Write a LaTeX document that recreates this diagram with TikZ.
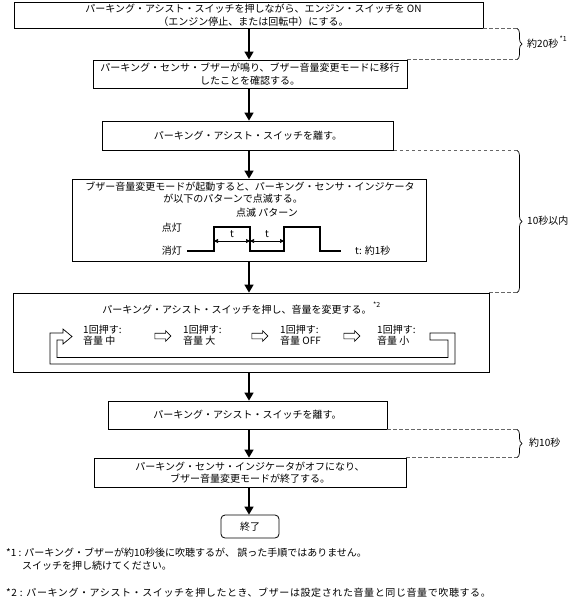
\documentclass[tikz,border=0pt]{standalone}
\usepackage{fontspec}
\setmainfont{Noto Sans CJK JP}
\usetikzlibrary{arrows.meta,decorations.pathreplacing,shapes.arrows}
\begin{document}
\begin{tikzpicture}[x=1pt,y=-1pt,
  box/.style={draw,line width=0.8pt,inner sep=0pt,font=\fontsize{10}{12.5}\selectfont,align=center},
  flow/.style={line width=1.6pt,-{Triangle[length=8pt,width=9pt]}},
  dsh/.style={draw=gray!80!black,line width=0.7pt,dash pattern=on 3.5pt off 2.5pt},
  brc/.style={draw=black,line width=0.7pt,decorate,decoration={brace,amplitude=5pt}},
  txt/.style={inner sep=0pt,font=\fontsize{10}{12.5}\selectfont},
  item/.style={inner sep=0pt,font=\fontsize{10}{11.5}\selectfont,align=left,anchor=west},
  supr/.style={inner sep=0pt,font=\fontsize{7}{8}\selectfont,anchor=west},
  wave/.style={line width=1.6pt},
  dim/.style={line width=0.6pt,{Triangle[length=4pt,width=4pt]}-{Triangle[length=4pt,width=4pt]}},
  harrow/.style={draw,single arrow,line width=0.6pt,inner sep=2.5pt,single arrow head extend=2.5pt,minimum height=16pt}
]
\useasboundingbox (0,0) rectangle (571,608);
\coordinate (ax) at (249,0);
\coordinate (bx) at (517,0);
% boxes
\node[box,minimum width=469pt,minimum height=26pt] (b1) at (248.5,15) {\hspace*{10pt}パーキング・アシスト・スイッチを押しながら、エンジン・スイッチを ON\\\hspace*{10pt}（エンジン停止、または回転中）にする。};
\node[box,minimum width=314pt,minimum height=28pt] (b2) at (250,74) {パーキング・センサ・ブザーが鳴り、ブザー音量変更モードに移行\\したことを確認する。};
\node[box,minimum width=291pt,minimum height=29pt] (b3) at (248,135.5) {パーキング・アシスト・スイッチを離す。};
\node[box,minimum width=354pt,minimum height=82pt] (b4) at (249,220) {};
\node[box,minimum width=476pt,minimum height=79pt] (b5) at (251,332.5) {};
\node[box,minimum width=279pt,minimum height=28pt] (b6) at (247.5,415) {パーキング・アシスト・スイッチを離す。};
\node[box,minimum width=312pt,minimum height=29pt] (b7) at (250,472.5) {パーキング・センサ・インジケータがオフになり、\\ブザー音量変更モードが終了する。};
\node[box,rounded corners=4pt,minimum width=58pt,minimum height=23pt] (end) at (250,526.5) {終了};
% flow arrows
\draw[flow] (b1.south -| ax) -- (b2.north -| ax);
\draw[flow] (b2.south -| ax) -- (b3.north -| ax);
\draw[flow] (b3.south -| ax) -- (b4.north -| ax);
\draw[flow] (b4.south -| ax) -- (b5.north -| ax);
\draw[flow] (b5.south -| ax) -- (b6.north -| ax);
\draw[flow] (b6.south -| ax) -- (b7.north -| ax);
\draw[flow] (b7.south -| ax) -- (end.north -| ax);
% timing braces
\coordinate (r1a) at (b1.south east -| bx);
\coordinate (r1b) at (b2.north east -| bx);
\draw[dsh] (b1.south east) -- (r1a);
\draw[dsh] (b2.north east) -- (r1b);
\draw[brc] (r1a) -- (r1b);
\node[txt,anchor=west] (t20) at (527,44) {約20秒};
\node[supr] (s1) at ([xshift=1pt,yshift=5pt]t20.east) {*1};
\coordinate (r2a) at (b3.south east -| bx);
\coordinate (r2b) at (b5.north east -| bx);
\draw[dsh] (b3.south east) -- (r2a);
\draw[dsh] (b5.north east) -- (r2b);
\draw[brc] (r2a) -- (r2b);
\node[txt,anchor=west] (t10i) at (527,221) {10秒以内};
\coordinate (r3a) at (b6.south east -| bx);
\coordinate (r3b) at (b7.north east -| bx);
\draw[dsh] (b6.south east) -- (r3a);
\draw[dsh] (b7.north east) -- (r3b);
\draw[brc] (r3a) -- (r3b);
\node[txt,anchor=west] (t10) at (529,443) {約10秒};
% blink box contents
\node[txt] (bl1) at (250,187) {ブザー音量変更モードが起動すると、パーキング・センサ・インジケータ};
\node[txt] (bl2) at (233,199) {が以下のパターンで点滅する。};
\node[txt] (bl3) at (267,213) {点滅 パターン};
\node[txt,anchor=east] (lon) at (182,228) {点灯};
\node[txt,anchor=east] (loff) at (182,251) {消灯};
\draw[wave] (187,251) -- (214,251) -- (214,227) -- (250,227) -- (250,251) -- (284,251) -- (284,227) -- (320,227) -- (320,251) -- (341,251);
\coordinate (d1) at (214,241);
\coordinate (d2) at (250,241);
\coordinate (d3) at (284,241);
\draw[dim] (d1) -- (d2);
\draw[dim] (d2) -- (d3);
\node[txt] (tt1) at (232,234) {t};
\node[txt] (tt2) at (267,234) {t};
\node[txt,anchor=west] (tnote) at (355,251) {t: 約1秒};
% volume box contents
\node[txt] (t5) at (237,310) {パーキング・アシスト・スイッチを押し、音量を変更する。};
\node[supr] (s2) at ([xshift=1pt,yshift=5pt]t5.east) {*2};
\node[item] (i1) at (83,335) {1回押す:\\音量 中};
\node[item] (i2) at (183,335) {1回押す:\\音量 大};
\node[item] (i3) at (280,335) {1回押す:\\音量 OFF};
\node[item] (i4) at (377,335) {1回押す:\\音量 小};
\node[harrow] (h1) at (161.5,336) {};
\node[harrow] (h2) at (258.5,336) {};
\node[harrow] (h3) at (350.5,336) {};
\draw[line width=0.7pt,fill=white] (430,333) -- (455,333) -- (455,364) -- (50,364) -- (50,333) -- (63,333) -- (63,329) -- (72,336.5) -- (63,344) -- (63,340) -- (57,340) -- (57,357.5) -- (448,357.5) -- (448,340) -- (430,340) -- cycle;
% footnotes
\node[txt,anchor=west] (f1) at (6,553) {*1 : パーキング・ブザーが約10秒後に吹聴するが、 誤った手順ではありません。};
\node[txt,anchor=west] (f1b) at (22,566) {スイッチを押し続けてください。};
\node[txt,anchor=west] (f2) at (6,593) {\addfontfeature{LetterSpace=6}*2 : パーキング・アシスト・スイッチを押したとき、ブザーは設定された音量と同じ音量で吹聴する。};
\end{tikzpicture}
\end{document}
